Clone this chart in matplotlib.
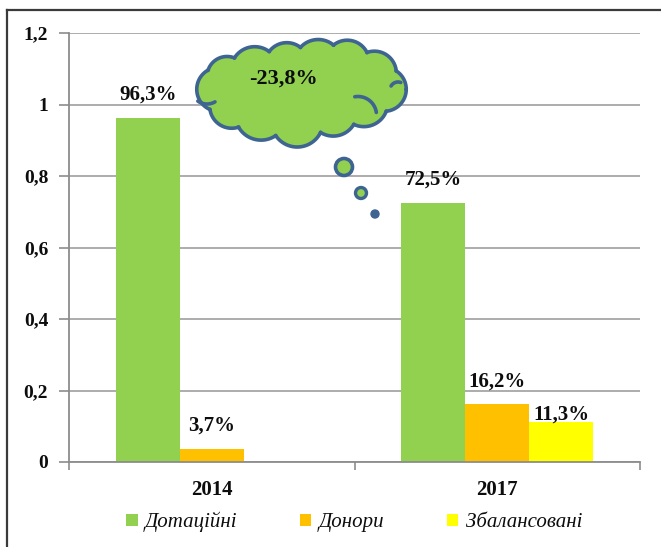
import matplotlib
matplotlib.use("Agg")
import matplotlib.pyplot as plt
from matplotlib.patches import Circle, Ellipse
from matplotlib.lines import Line2D
import numpy as np

# ---- data ----
categories = ["2014", "2017"]
series_names = ["Дотаційні", "Донори", "Збалансовані"]
values_dotatsiini = [0.963, 0.725]
values_donory = [0.037, 0.162]
values_zbalansovani = [0.0, 0.113]
labels_dotatsiini = ["96,3%", "72,5%"]
labels_donory = ["3,7%", "16,2%"]
labels_zbalansovani = ["", "11,3%"]
yticks = [0, 0.2, 0.4, 0.6, 0.8, 1.0, 1.2]
ytick_labels = ["0", "0,2", "0,4", "0,6", "0,8", "1", "1,2"]
change_label = "-23,8%"

colors = ["#92D050", "#FFC000", "#FFFF00"]
serif = "Liberation Serif"
txt_color = "#0d0d0d"

W, H = 661, 547
fig = plt.figure(figsize=(W / 100, H / 100), dpi=100)
ax = fig.add_axes([69 / W, (H - 462) / H, (640 - 69) / W, (462 - 33) / H])

x = np.arange(len(categories))
bw = 0.224
all_vals = [values_dotatsiini, values_donory, values_zbalansovani]
all_labels = [labels_dotatsiini, labels_donory, labels_zbalansovani]
for i, (vals, labs) in enumerate(zip(all_vals, all_labels)):
    pos = x + (i - 1) * bw
    bars = ax.bar(pos, vals, width=bw, color=colors[i], label=series_names[i], zorder=2)
    for b, v, lab in zip(bars, vals, labs):
        if not lab:
            continue
        dy = 16.5 if lab != "11,3%" else 5
        ax.annotate(lab, (b.get_x() + b.get_width() / 2, v), xytext=(0, dy),
                    textcoords="offset points", ha="center", va="center",
                    fontsize=15, fontweight="bold", family=serif, color=txt_color, zorder=4)

ax.set_xlim(-0.5, 1.5)
ax.set_ylim(0, 1.2)
ax.set_yticks(yticks)
ax.set_yticklabels(ytick_labels, fontsize=14, fontweight="bold", family=serif, color=txt_color)
ax.set_xticks(x)
ax.set_xticklabels(categories, fontsize=15, fontweight="bold", family=serif, color=txt_color)
ax.set_xticks([-0.5, 0.5, 1.5], minor=True)
ax.tick_params(axis="x", which="major", length=0, pad=13)
ax.tick_params(axis="x", which="minor", length=6, color="#8c8c8c", width=1.2)
ax.tick_params(axis="y", length=7, color="#8c8c8c", width=1.2, pad=8)
ax.yaxis.grid(True, color="#a6a6a6", linewidth=1.3, zorder=0)
ax.set_axisbelow(True)
for s in ["top", "right"]:
    ax.spines[s].set_visible(False)
for s in ["left", "bottom"]:
    ax.spines[s].set_color("#8c8c8c")
    ax.spines[s].set_linewidth(1.3)

handles, labels = ax.get_legend_handles_labels()
fig.legend(handles, labels, loc="center", bbox_to_anchor=(354 / W, 1 - 522 / H), ncol=3,
           frameon=False, prop={"family": serif, "style": "italic", "size": 15},
           handlelength=0.55, handleheight=0.55, handletextpad=0.35, columnspacing=3.0,
           labelcolor=txt_color)

# ---- overlay for cloud callout (pixel coordinates) ----
ov = fig.add_axes([0, 0, 1, 1], zorder=5)
ov.set_xlim(0, W)
ov.set_ylim(H, 0)
ov.axis("off")
edge = "#3E6491"
fill = "#92D050"
ccx, ccy = 301, 94
ea, eb = 86, 38  # central ellipse semi-axes
peaks = [(197, 86), (212, 116), (247, 136), (296, 147), (345, 133), (386, 112),
         (406, 86), (392, 60), (358, 43), (323, 40), (283, 43), (241, 51), (210, 66)]
radii = [22, 22, 26, 26, 24, 24, 22, 22, 22, 24, 22, 24, 20]
circles = []
for (px, py), r in zip(peaks, radii):
    d = np.array([ccx - px, (ccy - py) * 2.0])
    d = d / np.hypot(*d)
    circles.append((px + d[0] * r, py + d[1] * r, r))

# fill
for cx, cy, r in circles:
    ov.add_patch(Circle((cx, cy), r, facecolor=fill, edgecolor="none", zorder=1))
ov.add_patch(Ellipse((ccx, ccy), 2 * ea, 2 * eb, facecolor=fill, edgecolor="none", zorder=1))

# outline: union boundary
th = np.linspace(0, 2 * np.pi, 900)
for k, (cx, cy, r) in enumerate(circles):
    xs = cx + r * np.cos(th)
    ys = cy + r * np.sin(th)
    inside = ((xs - ccx) / ea) ** 2 + ((ys - ccy) / eb) ** 2 < 0.995
    for j, (ox, oy, orr) in enumerate(circles):
        if j == k:
            continue
        inside |= (xs - ox) ** 2 + (ys - oy) ** 2 < (orr - 0.3) ** 2
    xs = np.where(inside, np.nan, xs)
    ys = np.where(inside, np.nan, ys)
    ov.plot(xs, ys, color=edge, linewidth=2.6, solid_capstyle="round", zorder=2)

# inner hook arcs (characteristic of cloud shape)
def hook(cx, cy, r, t1, t2):
    t = np.radians(np.linspace(t1, t2, 40))
    ov.plot(cx + r * np.cos(t), cy + r * np.sin(t), color=edge, linewidth=2.6,
            solid_capstyle="round", zorder=2)

hook(358, 115, 18.5, -100, -8)
hook(207, 88, 16, 60, 125)
hook(398, 90, 8, -150, -70)

ov.text(283, 79, change_label, ha="center", va="center", fontsize=16, fontweight="bold",
        family=serif, color=txt_color, zorder=3)
ov.add_patch(Circle((344, 167), 8.5, facecolor=fill, edgecolor=edge, linewidth=2.6))
ov.add_patch(Circle((361, 193), 5.5, facecolor=fill, edgecolor=edge, linewidth=2.4))
ov.add_patch(Circle((375, 214), 4, facecolor=edge, edgecolor=edge, linewidth=1))

# outer frame
ov.add_line(Line2D([7, W + 5], [10, 10], color="#3a3a3a", linewidth=1.6))
ov.add_line(Line2D([7, 7], [10, H + 5], color="#3a3a3a", linewidth=1.6))

fig.savefig("out.png", dpi=100)
